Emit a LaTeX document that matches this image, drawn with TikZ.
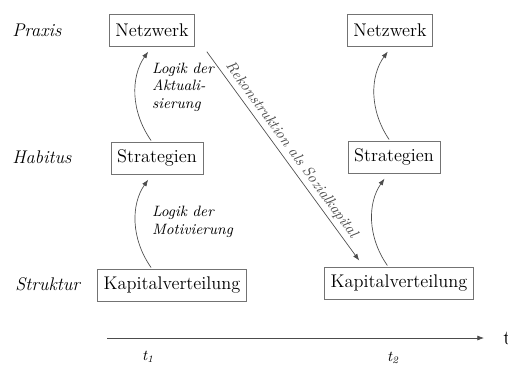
\documentclass[tikz,border=0pt]{standalone}
\usetikzlibrary{arrows.meta,calc,positioning}
\tikzset{
  % Kasten je Ebene (Netzwerk | Strategien | Kapitalverteilung)
  ebene/.style={draw=black!55, font=\fontsize{11}{13}\selectfont, inner xsep=3.6pt,
                inner ysep=2pt, minimum height=19pt},
  % Beschriftung der Zeilen links
  zeile/.style={font=\fontsize{11}{13}\selectfont\itshape, anchor=west, inner sep=0pt},
  % Uebergaenge zwischen den Ebenen
  logik/.style={black!70, -{Latex[length=4pt,width=3pt]}, shorten >=4pt, shorten <=1pt},
  notiz/.style={font=\fontsize{9}{10.6}\selectfont\itshape, align=left, anchor=west, inner sep=1pt},
  zeit/.style={font=\fontsize{9}{11}\selectfont\itshape, inner sep=1pt},
}

\begin{document}
\begin{tikzpicture}[x=0.6pt,y=-0.6pt]
\useasboundingbox (0,0) rectangle (508,369);

% =================== ZEILEN ===================
\node[zeile] (praxis)   at (12,30)  {Praxis};
\node[zeile] (habitus)  at (12,157) {Habitus};
\node[zeile] (struktur) at (15,284) {Struktur};

% =================== EBENEN t1 ===================
\node[ebene] (netzL)  at (152,30)  {Netzwerk};
\node[ebene] (stratL) at (157,158) {Strategien};
\node[ebene] (kapL)   at (172,285) {Kapitalverteilung};

% =================== EBENEN t2 ===================
\node[ebene] (netzR)  at (390,30)  {Netzwerk};
\node[ebene] (stratR) at (394,157) {Strategien};
\node[ebene] (kapR)   at (399,283) {Kapitalverteilung};

% =================== UEBERGAENGE ===================
\draw[logik] (stratL.north -| netzL.south) to[bend left=35] (netzL.south);
\draw[logik] (kapL.north -| netzL.south) to[bend left=35] (stratL.south -| netzL.south);
\draw[logik] (stratR.north -| netzR.south) to[bend left=35] ([xshift=1pt]netzR.south);
\draw[logik] ([xshift=-1pt]kapR.north -| netzR.south) to[bend left=35] ([xshift=-1pt]stratR.south -| netzR.south);

\node[notiz] (aktual) at (150,87)  {Logik der\\Aktuali-\\sierung};
\node[notiz] (motiv)  at (150,222) {Logik der\\Motivierung};

% Rueckwirkung auf die Struktur
\draw[logik, shorten >=1pt] ([xshift=6.5pt,yshift=-2.5pt]netzL.south east)
  -- node[sloped, above, pos=0.5, font=\fontsize{9}{11}\selectfont\itshape, inner sep=2pt]
     {Rekonstruktion als Sozialkapital}
  ([xshift=21.5pt,yshift=3pt]kapR.north west);

% =================== ZEITACHSE ===================
\coordinate (axS) at (107,338);
\coordinate (axE) at (484,338);
\draw[black!70, -{Latex[length=4pt,width=3pt]}] (axS) -- (axE);
\node[font=\fontsize{12}{14}\selectfont, anchor=west, inner sep=0pt] (t) at (503,338) {t};
\node[zeit] (t1) at (148,357) {t\textsubscript{1}};
\node[zeit] (t2) at (393,358) {t\textsubscript{2}};

\end{tikzpicture}
\end{document}
